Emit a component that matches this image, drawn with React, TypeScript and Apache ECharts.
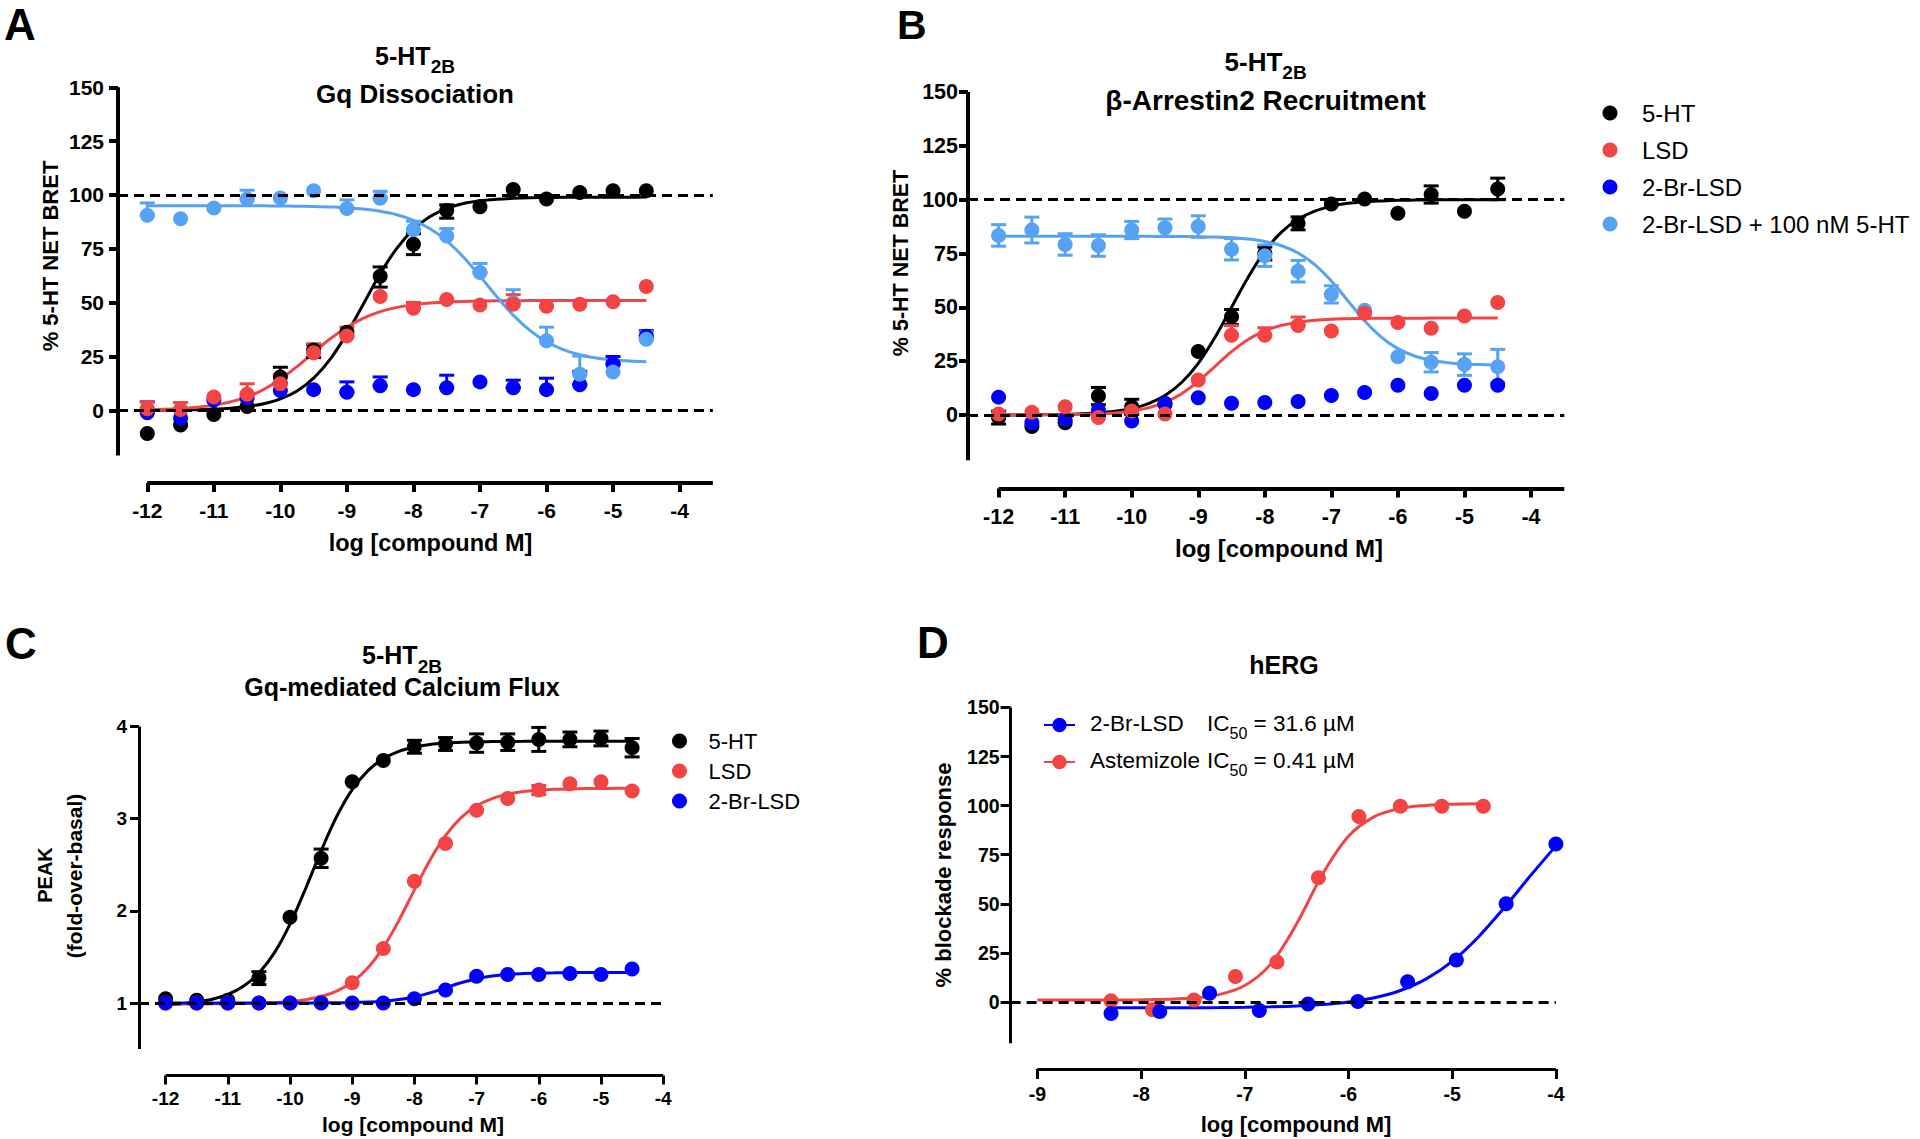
import React, { useEffect, useRef } from "react";
import * as echarts from "echarts";

const FONT = '"Liberation Sans", Arial, Helvetica, sans-serif';
const C_BLACK = "#000000";
const C_RED = "#F24444";
const C_BLUE = "#0000FF";
const C_LIGHT = "#56A2F5";

// ---------- shared concentration grids (log M) ----------
const X_CONC = [-12, -11.5, -11, -10.5, -10, -9.5, -9, -8.5, -8, -7.5, -7, -6.5, -6, -5.5, -5, -4.5];
const X_FIT = [-12, -11.75, -11.5, -11.25, -11, -10.75, -10.5, -10.25, -10, -9.75, -9.5, -9.25, -9, -8.75, -8.5, -8.25, -8, -7.75, -7.5, -7.25, -7, -6.75, -6.5, -6.25, -6, -5.75, -5.5, -5.25, -5, -4.75, -4.5];

const X_TICKS_BRET = [-12, -11, -10, -9, -8, -7, -6, -5, -4];
const X_TICKS_HERG = [-9, -8, -7, -6, -5, -4];
const Y_TICKS_PCT = [0, 25, 50, 75, 100, 125, 150];
const Y_TICKS_PEAK = [1, 2, 3, 4];

// ---------- Panel A: Gq dissociation ----------
const A_5HT = [-10.8, -6.8, -2.0, 1.8, 15.5, 28, 36.3, 62.2, 77.1, 92.8, 94.5, 102.5, 98.1, 101.1, 102, 102];
const A_LSD = [0.7, 0.4, 6.2, 7.5, 12.3, 26.7, 34.5, 52.8, 47.4, 51.4, 48.9, 49.2, 48.3, 49.2, 50.4, 57.5];
const A_BR = [-1.1, -3.7, 4.8, 5.7, 9.2, 9.6, 8.4, 11.4, 9.6, 10.5, 13.2, 10.5, 9.6, 11.9, 21.5, 34.4];
const A_BR5HT = [90.6, 88.9, 94, 98.1, 98.6, 102, 93.7, 98.5, 83.9, 80.9, 64, 50, 32.3, 16.7, 17.8, 33];
const A_5HT_ERR = [[-10, 12.8, 20], [-9.5, 24.5, 30.5], [-8.5, 57.2, 66.6], [-8, 72.3, 82], [-7.5, 89.2, 95.4]];
const A_LSD_ERR = [[-12, 0.7, 3.9], [-11.5, 0.4, 3.6], [-10.5, 7.5, 12.3], [-10, 12.3, 16.3], [-9.5, 26.7, 30.9], [-9, 34.5, 38.6], [-8, 47.4, 50.1], [-6.5, 49.2, 53.7], [-6, 48.3, 51]];
const A_BR_ERR = [[-12, -1.1, 3.9], [-9, 8.4, 13.2], [-8.5, 11.4, 15.5], [-7.5, 10.5, 16.3], [-6.5, 10.5, 14], [-6, 9.6, 14.9], [-5.5, 11.9, 18.1], [-5, 21.5, 25], [-4.5, 34.4, 37]];
const A_BR5HT_ERR = [[-12, 90.6, 96.3], [-10.5, 98.1, 102.2], [-9, 93.7, 97.7], [-8.5, 98.5, 101.7], [-8, 83.9, 87.8], [-7.5, 80.9, 84.4], [-7, 64, 68.2], [-6.5, 50, 56], [-6, 32.3, 38.6], [-5.5, 16.7, 25.2], [-4.5, 33, 36.5]];
const A_FIT_5HT = [0.06, 0.1, 0.18, 0.31, 0.55, 0.98, 1.74, 3.03, 5.26, 9.0, 14.95, 23.8, 35.6, 49.5, 63.4, 75.2, 84.0, 90.0, 93.7, 96.0, 97.3, 98.0, 98.45, 98.7, 98.8, 98.9, 98.94, 98.96, 98.98, 98.99, 99];
const A_FIT_LSD = [0.32, 0.53, 0.88, 1.46, 2.41, 3.92, 6.25, 9.68, 14.4, 20.3, 26.8, 33.2, 38.6, 42.8, 45.8, 47.8, 49.0, 49.8, 50.3, 50.55, 50.74, 50.85, 50.9, 50.95, 50.97, 50.98, 51, 51, 51, 51, 51];
const A_FIT_BR5HT = [95.0, 95.0, 95.0, 95.0, 95.0, 95.0, 94.98, 94.95, 94.9, 94.8, 94.7, 94.44, 94.1, 93.46, 92.4, 90.8, 88.2, 84.3, 78.7, 71.2, 62.3, 52.9, 44.2, 37.1, 31.8, 28.2, 25.8, 24.3, 23.4, 22.84, 22.5];
const A_REF_Y = [0, 100];

// ---------- Panel B: beta-arrestin2 recruitment ----------
const B_5HT = [-1.2, -5.3, -3.6, 8.8, 3.8, 5, 29.5, 45.6, 75, 89, 98, 100.3, 93.7, 102.4, 94.6, 105];
const B_LSD = [0.5, 1.3, 3.8, -1.2, 1.8, 0.5, 16.2, 37, 37, 41.6, 39, 47.2, 43, 40.3, 46, 52.2];
const B_BR = [8.3, -3.6, -2, 2.2, -2.8, 5.5, 8, 5.5, 5.8, 6.3, 9.1, 10.4, 13.8, 10, 13.8, 13.8];
const B_BR5HT = [83.4, 85.9, 79.2, 78.7, 85.9, 87, 87.5, 77, 74, 66.8, 56, 48.6, 27, 24.5, 23.4, 22.4];
const B_5HT_ERR = [[-12, -4.2, 1.8], [-10.5, 4.8, 12.8], [-10, 0.3, 7.3], [-8.5, 42, 49], [-8, 72, 78], [-7.5, 86, 92], [-5.5, 98.4, 106.4], [-4.5, 100, 110]];
const B_LSD_ERR = [[-8.5, 37, 41.5], [-8, 37, 40.5], [-7.5, 41.6, 45.5]];
const B_BR5HT_ERR = [[-12, 78.4, 88.4], [-11.5, 79.9, 91.9], [-11, 74.2, 84.2], [-10.5, 73.7, 83.7], [-10, 81.9, 89.9], [-9.5, 83, 91], [-9, 82.5, 92.5], [-8.5, 72, 82], [-8, 69, 79], [-7.5, 61.8, 71.8], [-7, 52, 60], [-5.5, 20, 29], [-5, 18.4, 28.4], [-4.5, 15, 30.5]];
const B_FIT_5HT = [0.03, 0.056, 0.1, 0.18, 0.32, 0.56, 0.99, 1.75, 3.07, 5.32, 9.09, 15.1, 24.0, 36.0, 50, 64.0, 76.0, 84.9, 90.9, 94.7, 96.9, 98.3, 99.0, 99.4, 99.7, 99.8, 99.9, 99.94, 100, 100, 100];
const B_FIT_LSD = [0.01, 0.02, 0.04, 0.08, 0.15, 0.28, 0.53, 0.98, 1.85, 3.33, 5.86, 9.9, 15.6, 22.5, 29.4, 35.1, 39.1, 41.6, 43.1, 44.0, 44.5, 44.7, 44.85, 44.9, 44.95, 44.97, 45, 45, 45, 45, 45];
const B_FIT_BR5HT = [83, 83, 83, 83, 83, 83, 83, 83, 82.98, 82.96, 82.93, 82.88, 82.8, 82.62, 82.3, 81.7, 80.6, 78.6, 75.2, 69.8, 62.2, 53, 43.8, 36.2, 30.8, 27.4, 25.4, 24.3, 23.7, 23.4, 23.2];
const B_REF_Y = [0, 100];

// ---------- Panel C: calcium flux ----------
const C_5HT = [1.045, 1.03, 1.03, 1.27, 1.93, 2.57, 3.40, 3.63, 3.78, 3.81, 3.82, 3.83, 3.86, 3.86, 3.87, 3.77];
const C_LSD = [1.0, 1.0, 1.0, 1.0, 1.0, 1.01, 1.22, 1.59, 2.32, 2.73, 3.09, 3.22, 3.31, 3.38, 3.40, 3.30];
const C_BR = [1.0, 1.0, 1.0, 1.0, 1.0, 1.0, 1.0, 1.0, 1.045, 1.14, 1.29, 1.31, 1.31, 1.32, 1.31, 1.37];
const C_5HT_ERR = [[-10.5, 1.2, 1.34], [-9.5, 2.47, 2.67], [-8, 3.71, 3.85], [-7.5, 3.74, 3.88], [-7, 3.72, 3.92], [-6.5, 3.74, 3.92], [-6, 3.73, 3.99], [-5.5, 3.78, 3.94], [-5, 3.79, 3.95], [-4.5, 3.67, 3.87]];
const C_LSD_ERR = [[-6, 3.26, 3.36]];
const C_FIT_5HT = [0.983, 0.993, 1.01, 1.04, 1.093, 1.181, 1.325, 1.546, 1.856, 2.24, 2.65, 3.023, 3.315, 3.519, 3.65, 3.73, 3.777, 3.805, 3.82, 3.828, 3.834, 3.836, 3.838, 3.839, 3.84, 3.84, 3.84, 3.84, 3.84, 3.84, 3.84];
const C_FIT_LSD = [0.99, 0.99, 0.99, 0.991, 0.993, 0.995, 0.998, 1.005, 1.016, 1.036, 1.07, 1.129, 1.226, 1.379, 1.603, 1.895, 2.227, 2.549, 2.815, 3.011, 3.139, 3.218, 3.266, 3.295, 3.309, 3.318, 3.323, 3.326, 3.328, 3.329, 3.33];
const C_FIT_BR = [1, 1, 1, 1, 1, 1, 1, 1, 1, 1, 1.001, 1.002, 1.005, 1.01, 1.019, 1.037, 1.066, 1.11, 1.165, 1.22, 1.264, 1.293, 1.31, 1.319, 1.325, 1.327, 1.329, 1.33, 1.33, 1.33, 1.33];
const C_REF_Y = [1];

// ---------- Panel D: hERG ----------
const D_BR_X = [-8.29, -7.82, -7.34, -6.86, -6.39, -5.91, -5.43, -4.96, -4.48, -4.0];
const D_BR_Y = [-5.9, -4.9, 4.4, -4.3, -1.0, 0.3, 10.3, 21.4, 50, 80.4];
const D_AST_X = [-8.29, -7.89, -7.49, -7.09, -6.69, -6.29, -5.9, -5.5, -5.1, -4.7];
const D_AST_Y = [0.6, -3.9, 1.0, 13, 20.4, 63.3, 94.4, 99.7, 99.7, 99.7];
const D_FIT_BR_X = [-8.25, -8, -7.75, -7.5, -7.25, -7, -6.75, -6.5, -6.25, -6, -5.75, -5.5, -5.25, -5, -4.75, -4.5, -4.25, -4];
const D_FIT_BR_Y = [-2.98, -2.97, -2.95, -2.9, -2.83, -2.7, -2.46, -2.05, -1.32, -0.04, 2.14, 5.85, 11.8, 20.7, 33.0, 47.9, 64, 79.5];
const D_FIT_AST_X = [-9, -8.75, -8.5, -8.25, -8, -7.75, -7.5, -7.25, -7, -6.75, -6.5, -6.25, -6, -5.75, -5.5, -5.25, -5, -4.75, -4.7];
const D_FIT_AST_Y = [1.0, 1.006, 1.016, 1.045, 1.126, 1.36, 1.99, 3.75, 8.39, 19.3, 39.8, 65.1, 84.4, 94.4, 98.6, 100.1, 100.7, 100.9, 100.9];
const D_REF_Y = [0];
const D_LEGEND: Record<string, [string, string]> = {
  "hERG 2-Br-LSD": ["2-Br-LSD", "31.6"],
  "hERG Astemizole": ["Astemizole", "0.41"],
};

const zip = (xs: number[], ys: number[]) => xs.map((x, i) => [x, ys[i]]);

type Layout = {
  yAxisX: number; yRefPx: [number, number]; yRefVal: [number, number]; yMin: number; yMax: number;
  xRefPx: [number, number]; xRefVal: [number, number]; xStart: number; xEnd: number; xAxisY: number;
  yTicks: number[]; xTicks: number[]; tickFont: number; yMargin: number; xMargin: number;
  axisW: number; tickLen: number;
};

function buildOption() {
  const grids: any[] = [];
  const xAxes: any[] = [];
  const yAxes: any[] = [];
  const series: any[] = [];

  function addPanel(p: Layout) {
    const gi = grids.length;
    const pxPerY = (p.yRefPx[1] - p.yRefPx[0]) / (p.yRefVal[1] - p.yRefVal[0]);
    const yPx = (v: number) => p.yRefPx[0] + (v - p.yRefVal[0]) * pxPerY;
    const pxPerX = (p.xRefPx[1] - p.xRefPx[0]) / (p.xRefVal[1] - p.xRefVal[0]);
    const xPx = (v: number) => p.xRefPx[0] + (v - p.xRefVal[0]) * pxPerX;
    const top = yPx(p.yMax);
    const bottom = yPx(p.yMin);
    const right = xPx(p.xEnd);
    grids.push({ left: p.yAxisX, top, width: right - p.yAxisX, height: bottom - top, containLabel: false, outerBoundsMode: "none" });
    grids.push({ left: xPx(p.xStart), top: p.xAxisY - 1, width: right - xPx(p.xStart), height: 1, containLabel: false, outerBoundsMode: "none" });
    const axisLine = { show: true, onZero: false, lineStyle: { color: "#000", width: p.axisW, cap: "butt" } };
    const lbl = { color: "#000", fontFamily: FONT, fontWeight: "bold", fontSize: p.tickFont };
    xAxes.push({
      gridIndex: gi, type: "value", show: false,
      min: p.xRefVal[0] + (p.yAxisX - p.xRefPx[0]) / pxPerX, max: p.xEnd,
    });
    xAxes.push({
      gridIndex: gi + 1, type: "value", min: p.xStart, max: p.xEnd, position: "bottom",
      axisLine,
      axisTick: { show: true, inside: false, length: p.tickLen, customValues: p.xTicks, lineStyle: { color: "#000", width: p.axisW } },
      axisLabel: { ...lbl, margin: p.xMargin, customValues: p.xTicks },
      splitLine: { show: false },
    });
    yAxes.push({
      gridIndex: gi, type: "value", min: p.yMin, max: p.yMax, position: "left",
      axisLine,
      axisTick: { show: true, inside: false, length: p.tickLen, customValues: p.yTicks, lineStyle: { color: "#000", width: p.axisW } },
      axisLabel: { ...lbl, margin: p.yMargin, customValues: p.yTicks },
      splitLine: { show: false },
    });
    yAxes.push({ gridIndex: gi + 1, type: "value", min: 0, max: 1, show: false });
    return gi;
  }

  const scatter = (gi: number, name: string, xs: number[], ys: number[], color: string) => ({
    type: "scatter", name, xAxisIndex: gi, yAxisIndex: gi, data: zip(xs, ys),
    symbol: "circle", symbolSize: 15, itemStyle: { color, opacity: 1 }, z: 4, silent: true, clip: false,
    emphasis: { disabled: true },
  });
  const curve = (gi: number, name: string, xs: number[], ys: number[], color: string, refY?: number[]) => {
    const s: any = {
      type: "line", name, xAxisIndex: gi, yAxisIndex: gi, data: zip(xs, ys),
      smooth: 0.35, symbol: "circle", showSymbol: false, symbolSize: 14,
      lineStyle: { color, width: 3 }, itemStyle: { color }, z: 2, silent: true, clip: false,
      emphasis: { disabled: true },
    };
    if (refY) {
      s.markLine = {
        silent: true, symbol: ["none", "none"], label: { show: false }, animation: false,
        emphasis: { disabled: true },
        lineStyle: { color: "#000", width: 3, type: [10, 6] },
        data: refY.map((v) => ({ yAxis: v })),
      };
    }
    return s;
  };
  const errbars = (gi: number, name: string, data: number[][], color: string) => ({
    type: "custom", name, xAxisIndex: gi, yAxisIndex: gi, data, z: 3, silent: true, clip: false,
    encode: { x: 0, y: [1, 2] },
    renderItem: (_params: any, api: any) => {
      const x = api.value(0);
      const lo = api.coord([x, api.value(1)]);
      const hi = api.coord([x, api.value(2)]);
      const cw = 7.5;
      const st = { stroke: color, lineWidth: 3 };
      return {
        type: "group",
        children: [
          { type: "line", shape: { x1: lo[0], y1: lo[1], x2: hi[0], y2: hi[1] }, style: st },
          { type: "line", shape: { x1: hi[0] - cw, y1: hi[1], x2: hi[0] + cw, y2: hi[1] }, style: st },
          { type: "line", shape: { x1: lo[0] - cw, y1: lo[1], x2: lo[0] + cw, y2: lo[1] }, style: st },
        ],
      };
    },
  });

  // ----- Panel A -----
  const ga = addPanel({
    yAxisX: 118, yRefPx: [410.3, 87.3], yRefVal: [0, 150], yMin: -21, yMax: 150,
    xRefPx: [147.3, 546.5], xRefVal: [-12, -6], xStart: -12, xEnd: -3.5, xAxisY: 483,
    yTicks: Y_TICKS_PCT, xTicks: X_TICKS_BRET, tickFont: 21, yMargin: 14, xMargin: 17, axisW: 4, tickLen: 9,
  });
  series.push(
    curve(ga, "A fit 5-HT", X_FIT, A_FIT_5HT, C_BLACK, A_REF_Y),
    curve(ga, "A fit LSD", X_FIT, A_FIT_LSD, C_RED),
    curve(ga, "A fit 2-Br-LSD + 5-HT", X_FIT, A_FIT_BR5HT, C_LIGHT),
    errbars(ga, "A err 5-HT", A_5HT_ERR, C_BLACK),
    errbars(ga, "A err 2-Br-LSD", A_BR_ERR, C_BLUE),
    errbars(ga, "A err 2-Br-LSD + 5-HT", A_BR5HT_ERR, C_LIGHT),
    errbars(ga, "A err LSD", A_LSD_ERR, C_RED),
    scatter(ga, "5-HT", X_CONC, A_5HT, C_BLACK),
    scatter(ga, "2-Br-LSD", X_CONC, A_BR, C_BLUE),
    scatter(ga, "2-Br-LSD + 100 nM 5-HT", X_CONC, A_BR5HT, C_LIGHT),
    scatter(ga, "LSD", X_CONC, A_LSD, C_RED),
  );

  // ----- Panel B -----
  const gb = addPanel({
    yAxisX: 968, yRefPx: [415, 92], yRefVal: [0, 150], yMin: -21, yMax: 150,
    xRefPx: [998.6, 1531], xRefVal: [-12, -4], xStart: -12, xEnd: -3.5, xAxisY: 488.5,
    yTicks: Y_TICKS_PCT, xTicks: X_TICKS_BRET, tickFont: 21.5, yMargin: 10, xMargin: 17, axisW: 4, tickLen: 9,
  });
  series.push(
    curve(gb, "B fit 5-HT", X_FIT, B_FIT_5HT, C_BLACK, B_REF_Y),
    curve(gb, "B fit LSD", X_FIT, B_FIT_LSD, C_RED),
    curve(gb, "B fit 2-Br-LSD + 5-HT", X_FIT, B_FIT_BR5HT, C_LIGHT),
    errbars(gb, "B err 5-HT", B_5HT_ERR, C_BLACK),
    errbars(gb, "B err 2-Br-LSD + 5-HT", B_BR5HT_ERR, C_LIGHT),
    errbars(gb, "B err LSD", B_LSD_ERR, C_RED),
    scatter(gb, "5-HT", X_CONC, B_5HT, C_BLACK),
    scatter(gb, "2-Br-LSD", X_CONC, B_BR, C_BLUE),
    scatter(gb, "2-Br-LSD + 100 nM 5-HT", X_CONC, B_BR5HT, C_LIGHT),
    scatter(gb, "LSD", X_CONC, B_LSD, C_RED),
  );

  // ----- Panel C -----
  const gc = addPanel({
    yAxisX: 139, yRefPx: [1003, 726.5], yRefVal: [1, 4], yMin: 0.5, yMax: 4,
    xRefPx: [165.6, 663.2], xRefVal: [-12, -4], xStart: -12, xEnd: -4, xAxisY: 1075.5,
    yTicks: Y_TICKS_PEAK, xTicks: X_TICKS_BRET, tickFont: 19, yMargin: 12, xMargin: 13, axisW: 3, tickLen: 9,
  });
  series.push(
    curve(gc, "C fit 5-HT", X_FIT, C_FIT_5HT, C_BLACK, C_REF_Y),
    curve(gc, "C fit LSD", X_FIT, C_FIT_LSD, C_RED),
    curve(gc, "C fit 2-Br-LSD", X_FIT, C_FIT_BR, C_BLUE),
    errbars(gc, "C err 5-HT", C_5HT_ERR, C_BLACK),
    errbars(gc, "C err LSD", C_LSD_ERR, C_RED),
    scatter(gc, "5-HT", X_CONC, C_5HT, C_BLACK),
    scatter(gc, "LSD", X_CONC, C_LSD, C_RED),
    scatter(gc, "2-Br-LSD", X_CONC, C_BR, C_BLUE),
  );

  // ----- Panel D -----
  const gd = addPanel({
    yAxisX: 1010.6, yRefPx: [1002, 707.4], yRefVal: [0, 150], yMin: -21, yMax: 150,
    xRefPx: [1037.4, 1555.9], xRefVal: [-9, -4], xStart: -9, xEnd: -4, xAxisY: 1069,
    yTicks: Y_TICKS_PCT, xTicks: X_TICKS_HERG, tickFont: 19.5, yMargin: 11, xMargin: 15, axisW: 3, tickLen: 10,
  });
  series.push(
    curve(gd, "hERG Astemizole", D_FIT_AST_X, D_FIT_AST_Y, C_RED, D_REF_Y),
    curve(gd, "hERG 2-Br-LSD", D_FIT_BR_X, D_FIT_BR_Y, C_BLUE),
    scatter(gd, "hERG Astemizole points", D_AST_X, D_AST_Y, C_RED),
    scatter(gd, "hERG 2-Br-LSD points", D_BR_X, D_BR_Y, C_BLUE),
  );

  const text = (t: string, x: number, y: number, size: number, o: any = {}) => ({
    type: "text", x, y, rotation: o.rot || 0, silent: true, z: 10,
    style: {
      text: t, fontSize: size, fontWeight: o.weight || "bold", fontFamily: FONT, fill: "#000",
      align: o.align || "center", verticalAlign: "middle", rich: o.rich,
    },
  });
  const subRich = (main: number, sub: number) => ({
    a: { fontSize: main, fontWeight: "bold", fontFamily: FONT, lineHeight: main + 3, verticalAlign: "top", fill: "#000" },
    b: { fontSize: sub, fontWeight: "bold", fontFamily: FONT, lineHeight: sub, padding: [14, 0, 0, 0], verticalAlign: "top", fill: "#000" },
  });

  const graphic = [
    text("A", 4, 24, 44, { align: "left" }),
    text("{a|5-HT}{b|2B}", 415, 57, 25, { rich: subRich(25, 19) }),
    text("Gq Dissociation", 415, 94, 26),
    text("% 5-HT NET BRET", 50, 256, 22, { rot: Math.PI / 2 }),
    text("log [compound M]", 430.5, 543, 23.5),

    text("B", 897, 25, 41, { align: "left" }),
    text("{a|5-HT}{b|2B}", 1265.6, 63.5, 26, { rich: subRich(26, 19) }),
    text("\u03B2-Arrestin2 Recruitment", 1265.6, 100, 28),
    text("% 5-HT NET BRET", 900.6, 263, 21.5, { rot: Math.PI / 2 }),
    text("log [compound M]", 1279, 548, 24),

    text("C", 5, 643, 44, { align: "left" }),
    text("{a|5-HT}{b|2B}", 402, 656.5, 25, { rich: subRich(25, 19) }),
    text("Gq-mediated Calcium Flux", 402, 687, 25),
    text("PEAK", 45, 875, 20, { rot: Math.PI / 2 }),
    text("(fold-over-basal)", 74, 876, 21, { rot: Math.PI / 2 }),
    text("log [compound M]", 413, 1124, 21),

    text("D", 917, 642, 44, { align: "left" }),
    text("hERG", 1284, 665, 25),
    text("% blockade response", 943, 875, 22, { rot: Math.PI / 2 }),
    text("log [compound M]", 1296, 1124.5, 22),
  ];

  const legendText = { color: "#000", fontFamily: FONT, fontWeight: "normal" };
  const spacedLegend = (gap: number, size: number) => ({
    formatter: (name: string) => `{sp| }{t|${name}}`,
    textStyle: {
      ...legendText, fontSize: size, lineHeight: size,
      rich: {
        sp: { width: gap, fontSize: size, lineHeight: size },
        t: { fontSize: size, lineHeight: size, fontFamily: FONT, color: "#000" },
      },
    },
  });
  const legend = [
    {
      data: ["5-HT", "LSD", "2-Br-LSD", "2-Br-LSD + 100 nM 5-HT"],
      orient: "vertical", left: 1602.5, top: 101, padding: 0, itemWidth: 15, itemHeight: 15, itemGap: 13,
      selectedMode: false, icon: "circle",
      ...spacedLegend(19.5, 24),
    },
    {
      data: ["5-HT", "LSD", "2-Br-LSD"],
      orient: "vertical", left: 672, top: 730, padding: 0, itemWidth: 15, itemHeight: 15, itemGap: 8,
      selectedMode: false, icon: "circle",
      ...spacedLegend(16.5, 22),
    },
    {
      data: ["hERG 2-Br-LSD", "hERG Astemizole"],
      orient: "vertical", left: 1043, top: 712, padding: 0, itemWidth: 31, itemHeight: 18, itemGap: 8,
      selectedMode: false,
      formatter: (name: string) => {
        const [n, v] = D_LEGEND[name];
        return `{sp| }{n|${n}}{m|IC}{s|50}{m| = ${v} \u00B5M}`;
      },
      textStyle: {
        ...legendText, fontSize: 22.5,
        rich: {
          sp: { width: 10, fontSize: 22.5, lineHeight: 26, verticalAlign: "top", fontFamily: FONT },
          n: { width: 117, fontSize: 22.5, lineHeight: 26, verticalAlign: "top", fontFamily: FONT, color: "#000" },
          m: { fontSize: 22.5, lineHeight: 26, verticalAlign: "top", fontFamily: FONT, color: "#000" },
          s: { fontSize: 16, lineHeight: 16, padding: [13, 0, 0, 0], verticalAlign: "top", fontFamily: FONT, color: "#000" },
        },
      },
    },
  ];

  return {
    animation: false,
    backgroundColor: "#ffffff",
    textStyle: { fontFamily: FONT },
    grid: grids,
    xAxis: xAxes,
    yAxis: yAxes,
    legend,
    series,
    graphic,
  };
}

export default function App() {
  const ref = useRef<HTMLDivElement>(null);
  useEffect(() => {
    if (!ref.current) return;
    const chart = echarts.init(ref.current, null, { renderer: "svg", width: 1920, height: 1139 });
    chart.setOption(buildOption() as any);
    return () => chart.dispose();
  }, []);
  return (
    <div
      ref={ref}
      style={{ position: "absolute", left: 0, top: 0, width: 1920, height: 1139, background: "#fff" }}
    />
  );
}
